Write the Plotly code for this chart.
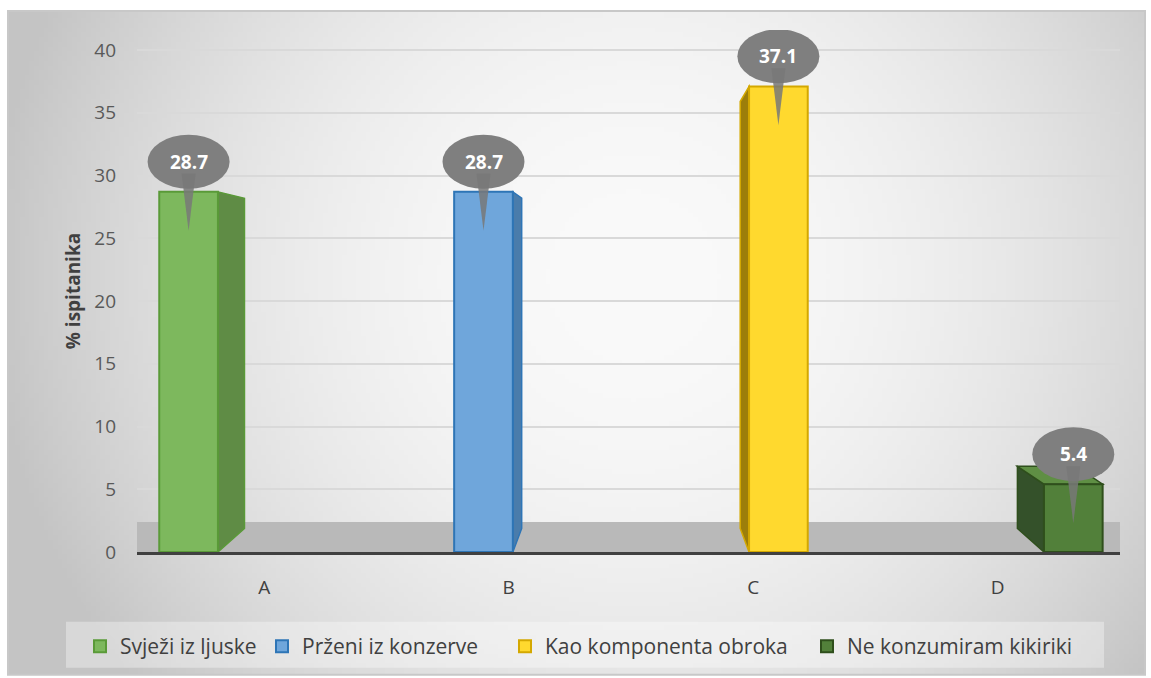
import numpy as np, zlib, struct, base64
import plotly.graph_objects as go

# ---- data ----
categories = ["A", "B", "C", "D"]
series_names = ["Svježi iz ljuske", "Prženi iz konzerve", "Kao komponenta obroka", "Ne konzumiram kikiriki"]
values = [28.7, 28.7, 37.1, 5.4]
y_ticks = [0, 5, 10, 15, 20, 25, 30, 35, 40]

# ---- styles ----
fills = ["#7db85d", "#6fa6db", "#ffd92e", "#52803a"]
lines = ["#5a9a38", "#2e75b6", "#d4a800", "#2f4f1c"]
sides = ["#5f8c45", "#4a7cab", "#9c7e0a", "#34512a"]
tops = ["#8cc46c", "#86b6e2", "#ffe866", "#5f8f44"]
legend_left_px = [80, 262, 505, 807]

# ---- layout geometry (px) ----
W, H = 1151, 678
L, R, B = 137, 31, 125
y_top = 41.6
T = 30
pw, ph = W - L - R, H - T - B
x_range = [-0.52, 3.5]

# ---- gradient background image ----
gw, gh = 240, 140
yy, xx = np.mgrid[0:gh, 0:gw]
rx = (xx / (gw - 1) - 0.55) / 0.55
ry = (yy / (gh - 1) - 0.40) / 0.95
r2 = rx ** 2 + ry ** 2
v = np.clip(250 - 50 * r2, 196, 250).astype(np.uint8)
img = np.dstack([v, v, v])
raw = b"".join(b"\x00" + row.tobytes() for row in img)
def chunk(t, dat):
    return struct.pack(">I", len(dat)) + t + dat + struct.pack(">I", zlib.crc32(t + dat) & 0xffffffff)
png = (b"\x89PNG\r\n\x1a\n" + chunk(b"IHDR", struct.pack(">IIBBBBB", gw, gh, 8, 2, 0, 0, 0))
       + chunk(b"IDAT", zlib.compress(raw, 9)) + chunk(b"IEND", b""))
uri = "data:image/png;base64," + base64.b64encode(png).decode()

def px_to_paper_x(px): return (px - L) / pw
def px_to_paper_y(py): return (H - B - py) / ph

fx0, fx1, fy0, fy1 = 8, 1145, 11, 676

fig = go.Figure()
width = 0.24
step = 0.206
shapes = []
annotations = []

# floor band
shapes.append(dict(type="rect", xref="paper", yref="y", x0=0, x1=1, y0=0, y1=2.4,
                   fillcolor="#b9b9b9", line=dict(width=0), layer="below"))

vp_y = 22.6      # perspective vanishing level (data units)
depth_k = 0.083  # perspective depth factor
legend_keys = ["legend", "legend2", "legend3", "legend4"]
for j, (name, val) in enumerate(zip(series_names, values)):
    cx = j + (j - 1.5) * step
    fig.add_trace(go.Bar(
        x=[cx], y=[val], name=name, width=width,
        marker=dict(color=fills[j], line=dict(color=lines[j], width=2)),
        hoverinfo="y", legend=legend_keys[j],
    ))
    # 3D side / top faces derived from the bar value
    dx = 0.06 * (1.5 - cx)
    left, right = cx - width / 2, cx + width / 2
    top_back = val + depth_k * (vp_y - val)
    base_back = depth_k * vp_y
    edge = right if dx > 0 else left
    shapes.append(dict(type="path", xref="x", yref="y", layer="between",
                       path=f"M {edge},0 L {edge},{val} L {edge+dx},{top_back} L {edge+dx},{base_back} Z",
                       fillcolor=sides[j], line=dict(color=lines[j], width=1.5)))
    if top_back > val:
        shapes.append(dict(type="path", xref="x", yref="y", layer="between",
                           path=f"M {left},{val} L {right},{val} L {right+dx},{top_back} L {left+dx},{top_back} Z",
                           fillcolor=tops[j], line=dict(color=lines[j], width=1.5)))

    cyv = val + 2.4
    shapes.append(dict(type="circle", xref="x", yref="y", xsizemode="pixel", ysizemode="pixel",
                       xanchor=cx, yanchor=cyv, x0=-41, x1=41, y0=-27, y1=27,
                       fillcolor="#7f7f7f", line=dict(width=0), layer="above"))
    shapes.append(dict(type="path", xref="x", yref="y", xsizemode="pixel", ysizemode="pixel",
                       xanchor=cx, yanchor=cyv, path="M -7,-12 L 7,-12 L 0,-69 Z",
                       fillcolor="rgba(120,120,120,0.85)", line=dict(width=0), layer="above"))
    annotations.append(dict(x=cx, y=cyv, xref="x", yref="y", text=f"<b>{val}</b>", showarrow=False,
                            font=dict(family="Open Sans", size=19, color="white")))

# legend background box
shapes.append(dict(type="rect", xref="paper", yref="paper",
                   x0=px_to_paper_x(66), x1=px_to_paper_x(1104), y0=px_to_paper_y(669), y1=px_to_paper_y(623),
                   fillcolor="rgba(255,255,255,0.35)", line=dict(width=0), layer="below"))
# chart frame
shapes.append(dict(type="rect", xref="paper", yref="paper",
                   x0=px_to_paper_x(fx0), x1=px_to_paper_x(fx1), y0=px_to_paper_y(fy1), y1=px_to_paper_y(fy0),
                   line=dict(color="#c8c8c8", width=2), fillcolor="rgba(0,0,0,0)", layer="below"))

legend_common = dict(orientation="h", xanchor="left", y=px_to_paper_y(626), yanchor="top",
                     bgcolor="rgba(0,0,0,0)", font=dict(size=21, color="#404040"), itemwidth=30)
legend_layout = {key: dict(legend_common, x=px_to_paper_x(lx)) for key, lx in zip(legend_keys, legend_left_px)}

fig.update_layout(
    width=W, height=H,
    margin=dict(l=L, r=R, t=T, b=B),
    paper_bgcolor="white", plot_bgcolor="rgba(0,0,0,0)",
    barmode="overlay",
    font=dict(family="Open Sans", color="#595959"),
    images=[dict(source=uri, xref="paper", yref="paper",
                 x=px_to_paper_x(fx0), y=px_to_paper_y(fy0),
                 sizex=px_to_paper_x(fx1) - px_to_paper_x(fx0),
                 sizey=px_to_paper_y(fy0) - px_to_paper_y(fy1),
                 sizing="stretch", layer="below", xanchor="left", yanchor="top")],
    shapes=shapes,
    annotations=annotations,
    xaxis=dict(range=x_range, tickvals=list(range(len(categories))), ticktext=categories,
               showgrid=False, zeroline=False, showline=True, linecolor="#404040", linewidth=3,
               ticks="", ticklabelstandoff=16, tickfont=dict(size=19, color="#404040")),
    yaxis=dict(range=[0, y_top], tickvals=y_ticks, showgrid=True, gridcolor="#d9d9d9", gridwidth=2,
               zeroline=False, showline=False, ticks="", ticklabelstandoff=20,
               tickfont=dict(size=19, color="#595959"),
               title=dict(text="<b>% ispitanika</b>", font=dict(size=19, color="#404040"), standoff=8)),
    showlegend=True,
    **legend_layout,
)

fig.write_html("out.html", post_script="document.body.style.margin='0';",
               config={"displayModeBar": False})
